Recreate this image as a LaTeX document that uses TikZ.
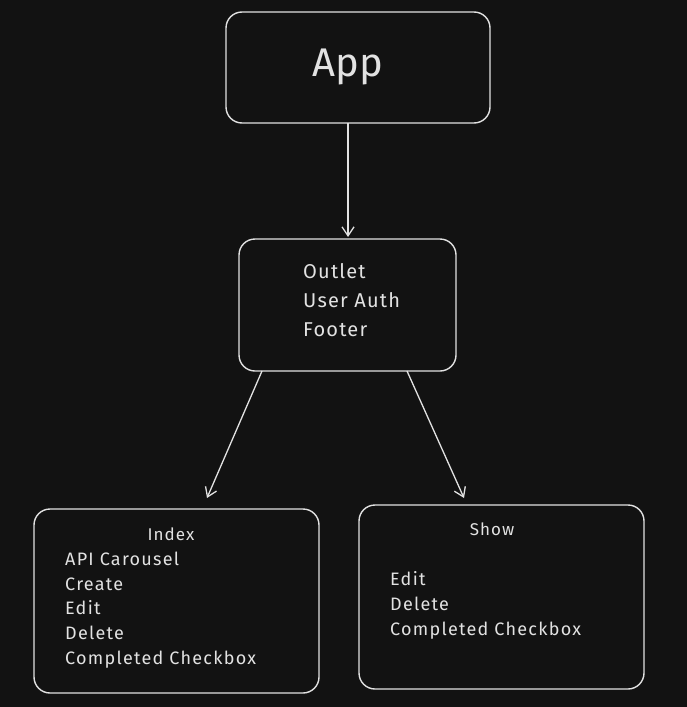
\documentclass[tikz,border=0pt]{standalone}
\usepackage{fontspec}
\setmainfont{Fira Sans}
\usetikzlibrary{arrows.meta}
\definecolor{bg}{HTML}{121212}
\definecolor{ink}{HTML}{E2E2E2}
\begin{document}
\begin{tikzpicture}[x=1pt,y=-1pt,
  box/.style={draw=ink,line width=1.4pt,rounded corners=16pt,inner sep=0pt},
  conn/.style={draw=ink,line width=1.3pt,-{Straight Barb[length=9pt,width=12pt]}},
  txt/.style={text=ink,anchor=base west,inner sep=0pt,font=\fontsize{18}{20}\selectfont\addfontfeature{LetterSpace=7}},
  ]
\fill[bg] (0,0) rectangle (687,707);
\useasboundingbox (0,0) rectangle (687,707);
\node[box,minimum width=264pt,minimum height=111pt] (app) at (358,67.5) {};
\node[box,minimum width=217pt,minimum height=132pt] (mid) at (347.5,305) {};
\node[box,minimum width=285pt,minimum height=184pt] (idx) at (176.5,601) {};
\node[box,minimum width=285pt,minimum height=184pt] (shw) at (501.5,597) {};
\node[text=ink,inner sep=0pt,font=\fontsize{40}{44}\selectfont] (tapp) at (348,67) {App};
\node[txt,font=\fontsize{20}{22}\selectfont\addfontfeature{LetterSpace=6}] (t1) at (303,278) {Outlet};
\node[txt,font=\fontsize{20}{22}\selectfont\addfontfeature{LetterSpace=6}] (t2) at (303,307) {User Auth};
\node[txt,font=\fontsize{20}{22}\selectfont\addfontfeature{LetterSpace=6}] (t3) at (303,336) {Footer};
\node[text=ink,anchor=base,inner sep=0pt,font=\fontsize{17}{20}\selectfont\addfontfeature{LetterSpace=6}] (ti) at (171,540) {Index};
\node[txt] (i1) at (65,565) {API Carousel};
\node[txt] (i2) at (65,590) {Create};
\node[txt] (i3) at (65,614) {Edit};
\node[txt] (i4) at (65,639) {Delete};
\node[txt] (i5) at (65,664) {Completed Checkbox};
\node[text=ink,anchor=base,inner sep=0pt,font=\fontsize{17}{20}\selectfont\addfontfeature{LetterSpace=6}] (ts) at (492,535) {Show};
\node[txt] (s1) at (390,585) {Edit};
\node[txt] (s2) at (390,610) {Delete};
\node[txt] (s3) at (390,635) {Completed Checkbox};
\coordinate (a1) at (348,123);
\coordinate (a2) at (348,237);
\coordinate (b1) at (262,371);
\coordinate (b2) at (207,498);
\coordinate (c1) at (407,371);
\coordinate (c2) at (464,498);
\draw[conn] (a1) -- (a2);
\draw[conn] (b1) -- (b2);
\draw[conn] (c1) -- (c2);
\end{tikzpicture}
\end{document}
